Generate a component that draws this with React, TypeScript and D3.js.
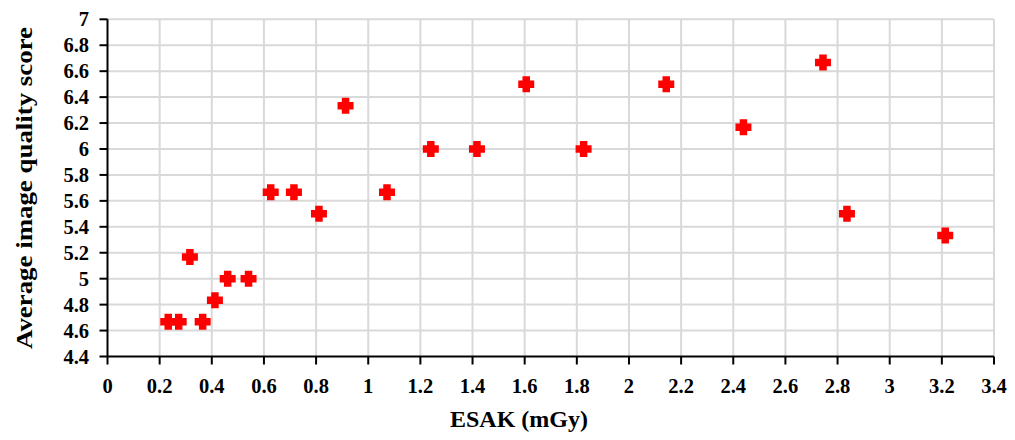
import * as d3 from 'd3';

// ESAK (mGy) and average score for each exam
const esak = [
  0.233, 0.273, 0.365, 0.316, 0.412, 0.461, 0.541, 0.626, 0.715, 0.811, 0.913,
  1.072, 1.24, 1.417, 1.606, 1.826, 2.143, 2.439, 2.744, 2.836, 3.213,
];
const score = [
  4.667, 4.667, 4.667, 5.167, 4.833, 5.0, 5.0, 5.667, 5.667, 5.5, 6.333,
  5.667, 6.0, 6.0, 6.5, 6.0, 6.5, 6.167, 6.667, 5.5, 5.333,
];

const xTicks = [0, 0.2, 0.4, 0.6, 0.8, 1, 1.2, 1.4, 1.6, 1.8, 2, 2.2, 2.4, 2.6, 2.8, 3, 3.2, 3.4];
const yTicks = [4.4, 4.6, 4.8, 5, 5.2, 5.4, 5.6, 5.8, 6, 6.2, 6.4, 6.6, 6.8, 7];

// plus-shaped marker path centred on 0,0
function plusPath(size: number, arm: number) {
  const a = size / 2;
  const b = arm / 2;
  return `M${-b},${-a}H${b}V${-b}H${a}V${b}H${b}V${a}H${-b}V${b}H${-a}V${-b}H${-b}Z`;
}

export default function App() {
  const width = 1015;
  const height = 440;
  const font = '"Liberation Serif", "Times New Roman", serif';

  const x = d3.scaleLinear().domain([0, 3.4]).range([107.5, 994]);
  const y = d3.scaleLinear().domain([4.4, 7]).range([356.5, 19.3]);

  const points = esak.map((v, i) => ({ x: v, y: score[i] }));
  const marker = plusPath(16, 7.5);

  return (
    <svg
      width={width}
      height={height}
      style={{ position: 'absolute', left: 0, top: 0, background: '#fff' }}
      fontFamily={font}
      fontWeight="bold"
    >
      {/* grid */}
      <g stroke="#d9d9d9" strokeWidth={2}>
        {yTicks.slice(1).map((t) => (
          <line key={`gy${t}`} x1={x(0)} x2={x(3.4)} y1={y(t)} y2={y(t)} />
        ))}
        {xTicks.slice(1).map((t) => (
          <line key={`gx${t}`} x1={x(t)} x2={x(t)} y1={y(4.4)} y2={y(7)} />
        ))}
      </g>

      {/* axes */}
      <g stroke="#000" strokeWidth={2}>
        <line x1={x(0)} x2={x(3.4)} y1={y(4.4)} y2={y(4.4)} />
        <line x1={x(0)} x2={x(0)} y1={y(4.4)} y2={y(7)} />
        {xTicks.map((t) => (
          <line key={`tx${t}`} x1={x(t)} x2={x(t)} y1={y(4.4)} y2={y(4.4) + 8} />
        ))}
        {yTicks.map((t) => (
          <line key={`ty${t}`} x1={x(0) - 8} x2={x(0)} y1={y(t)} y2={y(t)} />
        ))}
      </g>

      {/* tick labels */}
      <g fontSize={20.5} fill="#000">
        {xTicks.map((t) => (
          <text key={`lx${t}`} x={x(t)} y={393} textAnchor="middle">
            {String(t)}
          </text>
        ))}
        {yTicks.map((t) => (
          <text key={`ly${t}`} x={89} y={y(t)} dy="0.35em" textAnchor="end">
            {String(t)}
          </text>
        ))}
      </g>

      {/* axis titles */}
      <text x={519} y={427} textAnchor="middle" fontSize={24}>
        ESAK (mGy)
      </text>
      <text
        transform={`translate(32, ${(349 + 27) / 2}) rotate(-90)`}
        textAnchor="middle"
        fontSize={24}
        textLength={322}
        lengthAdjust="spacingAndGlyphs"
      >
        Average image quality score
      </text>

      {/* points */}
      <g fill="#ff0000">
        {points.map((p, i) => (
          <path key={i} d={marker} transform={`translate(${x(p.x)}, ${y(p.y)})`} />
        ))}
      </g>
    </svg>
  );
}
